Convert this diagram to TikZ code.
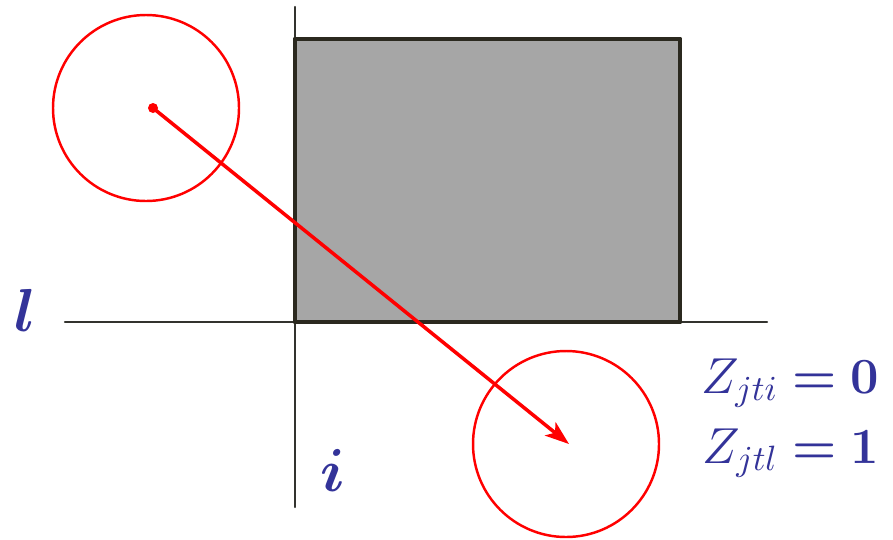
\documentclass[tikz,border=0pt]{standalone}
\usepackage{amsmath}
\usetikzlibrary{arrows.meta,calc}
\usepackage{tkz-euclide}
\definecolor{AxisClr}{rgb}{0.2,0.2,0.18}
\definecolor{BoxClr}{rgb}{0.65,0.65,0.65}
\definecolor{EdgeClr}{rgb}{0.17,0.16,0.12}
\definecolor{CircClr}{rgb}{1,0,0}
\definecolor{LblClr}{rgb}{0.2,0.2,0.6}
\newcommand{\bfeq}{\mathrel{\boldsymbol{=}}}

\begin{document}
\begin{tikzpicture}[
  axtext/.style={text=LblClr,inner sep=0pt,font=\fontsize{18}{20}\selectfont},
  ztext/.style={text=LblClr,inner sep=0pt,font=\fontsize{14}{17}\selectfont,anchor=base east}]
\useasboundingbox[fill=white] (0,0) rectangle (8.93,5.39);
\tkzSetUpLine[line width=.6pt,color=AxisClr]

\tkzDefPoints{2.95/5.32/V,2.95/0.32/W,0.65/2.17/H,7.67/2.17/K}
\tkzDefPoints{2.95/2.17/A,6.80/2.17/B,6.80/5.00/C,2.95/5.00/D}
\tkzDefPoints{1.46/4.31/P,2.39/4.31/P1,5.66/0.95/Q,6.59/0.95/Q1}
\tkzDefPoints{1.53/4.31/S,5.69/0.95/E}

% axes
\tkzDrawSegments(V,W H,K)

% region
\tkzFillPolygon[fill=BoxClr](A,B,C,D)
\tkzDrawPolygon[line width=1.4pt,color=EdgeClr](A,B,C,D)

% circles and move
\tkzDrawCircles[line width=.7pt,color=CircClr](P,P1 Q,Q1)
\draw[line width=1pt,color=CircClr,-{Stealth[length=.24cm,width=.17cm,inset=.06cm]}] (S) -- (E);
\fill[CircClr] (S) circle (.05);

\node[axtext] (lname) at (0.25,2.29) {$\boldsymbol{l}$};
\node[axtext] (iname) at (3.33,0.69) {$\boldsymbol{i}$};
\node[ztext] (zi) at (8.80,1.46) {$Z_{jti} \bfeq \boldsymbol{0}$};
\node[ztext] (zl) at (8.80,0.76) {$Z_{jtl} \bfeq \boldsymbol{1}$};

\end{tikzpicture}
\end{document}
